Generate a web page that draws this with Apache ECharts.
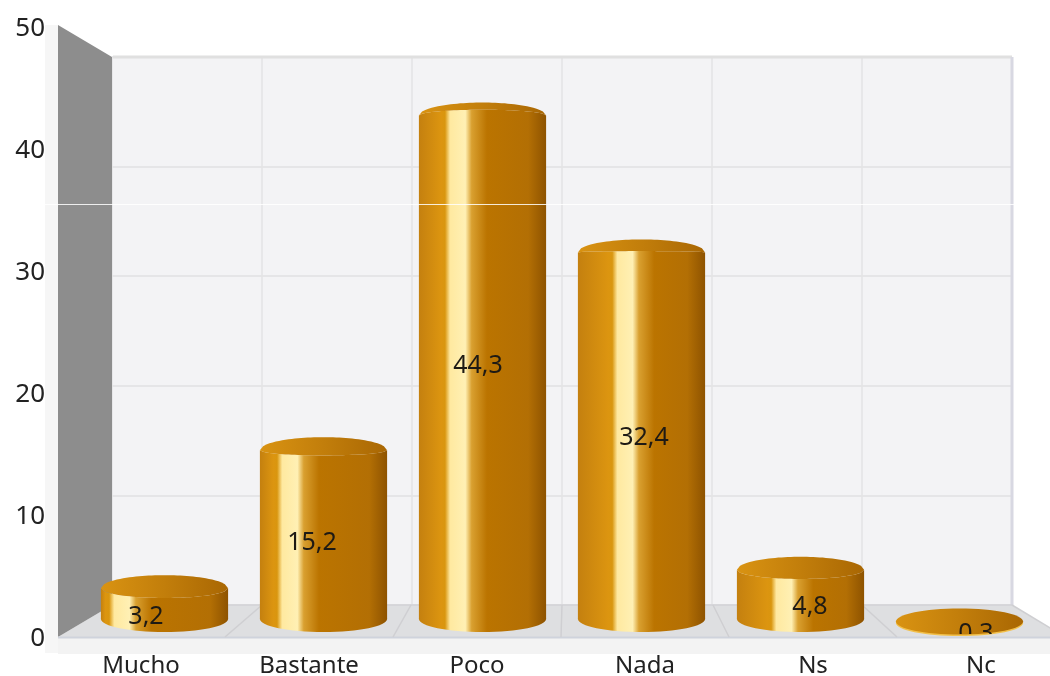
<!DOCTYPE html>
<html><head><meta charset="utf-8">
<style>html,body{margin:0;padding:0;background:#fff}#c{width:1050px;height:676px}</style>
<script src="https://cdn.jsdelivr.net/npm/echarts@6/dist/echarts.min.js"></script>
</head><body><div id="c"></div>
<script>
const categories = ['Mucho','Bastante','Poco','Nada','Ns','Nc'];
const values = [3.2,15.2,44.3,32.4,4.8,0.3];
const valueLabels = ['3,2','15,2','44,3','32,4','4,8','0,3'];
const yTicks = [0,10,20,30,40,50];

const chart = echarts.init(document.getElementById('c'));
const FONT = '"Noto Sans", sans-serif';
const G = echarts.graphic;

function cylinder(params, api){
  const i = api.value(0), v = api.value(1);
  const cx = api.coord([i,0])[0];
  const w = api.size([1,0])[0]*0.8;
  const ry = 13, rx = w/2;
  const topY = api.coord([i,v])[1];
  const baseY = api.coord([i,0])[1]-6;
  // perspective: the rim's front edge flattens and turns upward as the cylinder rises
  const f = 11 - 0.38*v;
  const h = Math.min(0.175 + 0.07*i, 0.38);
  const body = new G.LinearGradient(0,0,1,0,[
    {offset:0,color:'#c4800f'},
    {offset:Math.max(0.02,h-0.14),color:'#dc9510'},
    {offset:Math.max(0.03,h-0.11),color:'#d9960f'},
    {offset:h-0.07,color:'#ffe9a0'},
    {offset:h+0.05,color:'#fff0b4'},
    {offset:h+0.10,color:'#d9a030'},
    {offset:h+0.22,color:'#bb7400'},
    {offset:0.86,color:'#b36f04'},
    {offset:1,color:'#8e5300'}
  ]);
  const topFill = new G.LinearGradient(0,0,1,0,[
    {offset:0,color:'#d99312'},{offset:0.5,color:'#c27e0b'},{offset:1,color:'#a96703'}
  ]);
  const steps = 40;
  const front = [], back = [];
  for (let k=0;k<=steps;k++){
    const t = -1 + 2*k/steps, s = Math.sqrt(1-t*t), x = cx + t*rx;
    front.push([x, topY + f*s]);
    back.push([x, topY - ry*s]);
  }
  const children = [];
  if (baseY > topY) {
    children.push({type:'ellipse',shape:{cx:cx,cy:baseY,rx:rx,ry:ry},style:{fill:body}});
    children.push({type:'polygon',shape:{points:front.concat([[cx+rx,baseY],[cx-rx,baseY]])},style:{fill:body}});
    children.push({type:'polygon',shape:{points:back.concat(front.slice().reverse())},style:{fill:topFill}});
  } else {
    children.push({type:'ellipse',shape:{cx:cx,cy:topY+1.5,rx:rx,ry:ry},style:{fill:'#f2c04a'}});
    children.push({type:'ellipse',shape:{cx:cx,cy:topY,rx:rx,ry:ry},style:{fill:topFill}});
  }
  return {type:'group',children:children};
}

function valueText(params, api){
  const i = api.value(0), v = api.value(1);
  const p = api.coord([i, v/2]);
  const zero = api.coord([i,0])[1];
  return {type:'text',
    clipPath:{type:'rect',shape:{x:0,y:0,width:1050,height:zero-5}},
    style:{x:p[0]+(2.5-i)*2,y:p[1]-3,text:valueLabels[i],fill:'#1e1a14',
      font:'25px '+FONT,align:'center',verticalAlign:'middle'}};
}

const backTicks = [262,411,562,713,862,1012];
const frontTicks = [225,393,561,729,897,1065];
const graphicEls = [
  {type:'rect',shape:{x:45,y:25,width:13,height:628},style:{fill:'#f6f6f6'},z:0},
  {type:'rect',shape:{x:58,y:637,width:992,height:17},style:{fill:'#f3f3f3'},z:0},
  {type:'polygon',shape:{points:[[58,637],[112,605],[1012,605],[1065,637]]},style:{fill:'#dedfe1'},z:1},
  {type:'polygon',shape:{points:[[58,25],[112,57],[112,605],[58,637]]},style:{fill:'#8d8d8d'},z:1},
  {type:'line',shape:{x1:58,y1:637.5,x2:1050,y2:637.5},style:{stroke:'#cfd3dc',lineWidth:2},z:1},
  {type:'line',shape:{x1:113,y1:57,x2:1012,y2:57},style:{stroke:'#e0e0e0',lineWidth:3},z:1},
  {type:'line',shape:{x1:1012,y1:57,x2:1012,y2:605},style:{stroke:'#d8d8e2',lineWidth:3},z:1},
  {type:'line',shape:{x1:112,y1:605,x2:1012,y2:605},style:{stroke:'#d2d2d6',lineWidth:1.5},z:1},
  {type:'rect',shape:{x:0,y:204,width:1050,height:1},style:{fill:'rgba(255,255,255,0.85)'},z:100}
];
backTicks.forEach((b,k)=>{
  graphicEls.push({type:'line',shape:{x1:b,y1:605,x2:frontTicks[k],y2:637},style:{stroke:'#cfcfd2',lineWidth:1.5},z:1});
});

chart.setOption({
  animation:false,
  backgroundColor:'#ffffff',
  grid:[
    {left:57,width:1008,top:29,bottom:37,outerBoundsMode:'none'},
    {left:85,width:954,top:50,bottom:51,outerBoundsMode:'none'},
    {left:112,width:900,top:57,bottom:71,show:true,backgroundColor:'#f3f3f5',borderWidth:0,outerBoundsMode:'none'}
  ],
  xAxis:[
    {type:'category',gridIndex:0,data:categories,axisLine:{show:false},axisTick:{show:false},splitLine:{show:false},
      axisLabel:{fontFamily:FONT,fontSize:24,color:'#222222',margin:15}},
    {type:'category',gridIndex:1,data:categories,show:false},
    {type:'category',gridIndex:2,data:categories,axisLine:{show:false},axisTick:{show:false},axisLabel:{show:false},
      splitLine:{show:true,interval:0,lineStyle:{color:'#e3e3e5',width:1.5}}}
  ],
  yAxis:[
    {type:'value',gridIndex:0,min:0,max:50,interval:10,axisLine:{show:false},axisTick:{show:false},splitLine:{show:false},
      axisLabel:{fontFamily:FONT,fontSize:26,color:'#222222',margin:12,
        formatter:v=>yTicks.includes(v)?String(v):''}},
    {type:'value',gridIndex:1,min:0,max:50,show:false},
    {type:'value',gridIndex:2,min:0,max:50,interval:10,axisLine:{show:false},axisTick:{show:false},axisLabel:{show:false},
      splitLine:{show:true,lineStyle:{color:'#e5e5e7',width:2}}}
  ],
  graphic:{elements:graphicEls},
  series:[
    {type:'custom',name:'Barras',xAxisIndex:1,yAxisIndex:1,z:5,clip:false,renderItem:cylinder,
      encode:{x:0,y:1},data:values.map((v,i)=>[i,v])},
    {type:'custom',name:'Etiquetas',xAxisIndex:0,yAxisIndex:0,z:6,clip:false,renderItem:valueText,
      encode:{x:0,y:1},data:values.map((v,i)=>[i,v])}
  ]
});
</script></body></html>
